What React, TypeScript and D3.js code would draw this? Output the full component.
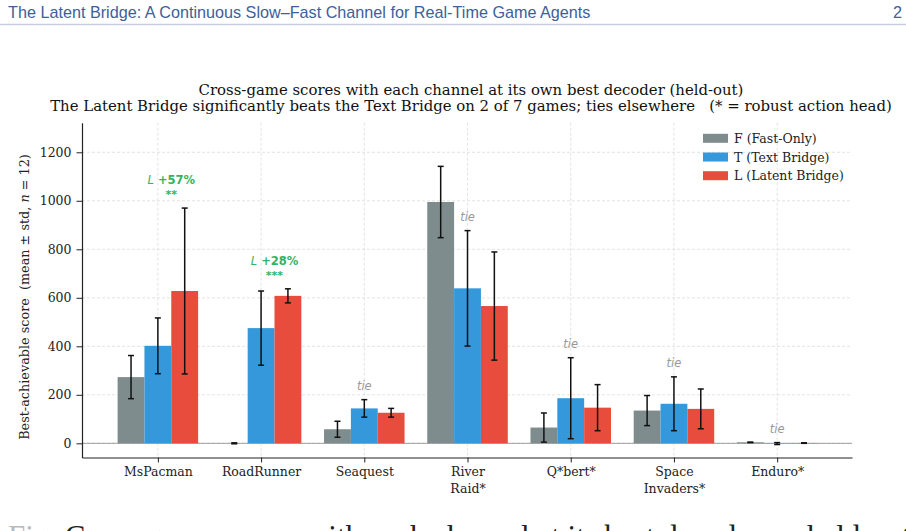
import React, { useRef, useEffect } from 'react';
import * as d3 from 'd3';

// per-game best-decoder scores (held-out), mean ± std over n = 12
const games = ['MsPacman', 'RoadRunner', 'Seaquest', 'River\nRaid*', 'Q*bert*', 'Space\nInvaders*', 'Enduro*'];
const fastMean = [273, 0, 58, 995, 65, 135, 4];
const fastStd = [89, 2, 33, 147, 60, 62, 1];
const textMean = [402, 475, 144, 639, 186, 163, -1];
const textStd = [115, 153, 36, 238, 167, 111, 4];
const latentMean = [628, 608, 126, 566, 147, 142, 1];
const latentStd = [342, 29, 18, 223, 95, 82, 1];

// verdict of L vs T per game
const gains = ['+57%', '+28%', '', '', '', '', ''];
const stars = ['**', '***', '', '', '', '', ''];

const yTicks = [0, 200, 400, 600, 800, 1000, 1200];
const seriesNames = ['F (Fast-Only)', 'T (Text Bridge)', 'L (Latent Bridge)'];
const colors = ['#7f8c8d', '#3498db', '#e74c3c'];

const App: React.FC = () => {
    const svgRef = useRef<SVGSVGElement | null>(null);
    const width = 906;
    const height = 531;
    const margin = { top: 122.7, right: 54, bottom: 73.5, left: 82 };
    const serif = "'DejaVu Serif', serif";
    const sans = "'DejaVu Sans', sans-serif";

    useEffect(() => {
        document.body.style.margin = '0';
        if (!svgRef.current) return;

        const svg = d3.select(svgRef.current);
        svg.selectAll('*').remove();
        svg.attr('viewBox', `0 0 ${width} ${height}`);

        svg.append('rect').attr('width', width).attr('height', height).attr('fill', 'white');

        // page header
        svg.append('text')
            .attr('x', 8).attr('y', 18)
            .attr('font-family', "'Liberation Sans', Arial, sans-serif")
            .attr('font-size', 16.2)
            .attr('fill', '#40609a')
            .text('The Latent Bridge: A Continuous Slow\u2013Fast Channel for Real-Time Game Agents');
        svg.append('text')
            .attr('x', 902).attr('y', 18)
            .attr('text-anchor', 'end')
            .attr('font-family', "'Liberation Sans', Arial, sans-serif")
            .attr('font-size', 16.2)
            .attr('fill', '#40609a')
            .text('2');
        svg.append('line')
            .attr('x1', 0).attr('x2', width)
            .attr('y1', 24.5).attr('y2', 24.5)
            .attr('stroke', '#c9cde2').attr('stroke-width', 1.5);

        const nGames = games.length;
        const x = d3.scaleLinear()
            .domain([-0.735, nGames - 0.275])
            .range([margin.left, width - margin.right]);
        const y = d3.scaleLinear()
            .domain([-58.5, 1322])
            .range([height - margin.bottom, margin.top]);
        const barW = 0.26;
        const pxW = x(barW) - x(0);

        // grid
        const grid = svg.append('g')
            .attr('stroke', '#dcdcdc')
            .attr('stroke-width', 0.8)
            .attr('stroke-dasharray', '3,2');
        grid.selectAll('line.h').data(yTicks).join('line')
            .attr('x1', margin.left).attr('x2', width - margin.right)
            .attr('y1', d => y(d)).attr('y2', d => y(d));
        grid.selectAll('line.v').data(d3.range(nGames)).join('line')
            .attr('x1', d => x(d)).attr('x2', d => x(d))
            .attr('y1', margin.top).attr('y2', height - margin.bottom);

        // zero line
        svg.append('line')
            .attr('x1', margin.left).attr('x2', width - margin.right)
            .attr('y1', y(0)).attr('y2', y(0))
            .attr('stroke', '#888').attr('stroke-width', 0.8);

        const series = [
            { mean: fastMean, std: fastStd, off: -barW, color: colors[0] },
            { mean: textMean, std: textStd, off: 0, color: colors[1] },
            { mean: latentMean, std: latentStd, off: barW, color: colors[2] },
        ];

        series.forEach(s => {
            const g = svg.append('g');
            g.selectAll('rect').data(s.mean).join('rect')
                .attr('x', (_, i) => x(i + s.off) - pxW / 2)
                .attr('width', pxW)
                .attr('y', d => Math.min(y(d), y(0)))
                .attr('height', d => Math.abs(y(0) - y(d)))
                .attr('fill', s.color);

            const eb = svg.append('g').attr('stroke', '#111').attr('stroke-width', 1.5);
            s.mean.forEach((m, i) => {
                const cx = x(i + s.off);
                const lo = y(m - s.std[i]);
                const hi = y(m + s.std[i]);
                eb.append('line').attr('x1', cx).attr('x2', cx).attr('y1', lo).attr('y2', hi);
                eb.append('line').attr('x1', cx - 3).attr('x2', cx + 3).attr('y1', lo).attr('y2', lo);
                eb.append('line').attr('x1', cx - 3).attr('x2', cx + 3).attr('y1', hi).attr('y2', hi);
            });
        });

        // verdict annotations
        games.forEach((_, i) => {
            const tTop = textMean[i] + textStd[i];
            const lTop = latentMean[i] + latentStd[i];
            const top = Math.max(tTop, lTop);
            if (gains[i]) {
                const cx = x(i + barW / 2);
                const t = svg.append('text')
                    .attr('x', cx).attr('y', y(top + 100))
                    .attr('text-anchor', 'middle')
                    .style('font-family', sans)
                    .style('font-size', '11.5px')
                    .style('font-weight', 'bold')
                    .attr('fill', '#2eb463');
                t.append('tspan').style('font-style', 'italic').style('font-weight', 'normal').text('L');
                t.append('tspan').text(' ' + gains[i]);
                svg.append('text')
                    .attr('x', cx).attr('y', y(top + 40))
                    .attr('text-anchor', 'middle')
                    .style('font-family', sans)
                    .style('font-size', '11px')
                    .style('font-weight', 'bold')
                    .attr('fill', '#2eb463')
                    .text(stars[i]);
            } else {
                svg.append('text')
                    .attr('x', x(i)).attr('y', y(top + 40))
                    .attr('text-anchor', 'middle')
                    .style('font-family', sans)
                    .style('font-size', '11.5px')
                    .style('font-style', 'italic')
                    .attr('fill', '#999')
                    .text('tie');
            }
        });

        // axes
        const yAxis = svg.append('g')
            .attr('transform', `translate(${margin.left},0)`)
            .call(d3.axisLeft(y).tickValues(yTicks).tickFormat(d3.format('d')).tickSize(5.5).tickSizeOuter(0).tickPadding(5));
        const xAxis = svg.append('g')
            .attr('transform', `translate(0,${height - margin.bottom})`)
            .call(d3.axisBottom(x).tickValues(d3.range(nGames)).tickSize(5).tickSizeOuter(0).tickPadding(5).tickFormat(() => ''));
        [yAxis, xAxis].forEach(ax => {
            ax.attr('font-family', serif).attr('font-size', 12.5);
            ax.select('.domain').attr('stroke', '#222').attr('stroke-width', 1.2);
            ax.selectAll('.tick line').attr('stroke', '#222').attr('stroke-width', 1);
            ax.selectAll('text')
                .style('font-family', serif)
                .style('font-size', '12.5px')
                .attr('fill', '#222');
        });
        xAxis.selectAll<SVGTextElement, number>('.tick text').each(function (d) {
            const lines = games[d].split('\n');
            const sel = d3.select(this);
            lines.forEach((ln, k) => {
                const ts = sel.append('tspan').attr('x', 0).text(ln);
                if (k > 0) ts.attr('dy', '1.32em');
            });
        });

        // y label
        const yl = svg.append('text')
            .attr('transform', `translate(29,297) rotate(-90)`)
            .attr('text-anchor', 'middle')
            .style('font-family', serif)
            .style('font-size', '12.8px')
            .style('white-space', 'pre')
            .attr('fill', '#222');
        yl.append('tspan').text('Best-achievable score  (mean \u00b1 std, ');
        yl.append('tspan').style('font-style', 'italic').text('n');
        yl.append('tspan').text(' = 12)');

        // title
        const tx = (margin.left + width - margin.right) / 2 + 4;
        svg.append('text')
            .attr('x', tx).attr('y', 95)
            .attr('text-anchor', 'middle')
            .style('font-family', serif).style('font-size', '14.9px')
            .attr('fill', '#111')
            .text('Cross-game scores with each channel at its own best decoder (held-out)');
        svg.append('text')
            .attr('x', tx).attr('y', 111)
            .attr('text-anchor', 'middle')
            .style('font-family', serif).style('font-size', '14.9px')
            .style('white-space', 'pre')
            .attr('fill', '#111')
            .text('The Latent Bridge significantly beats the Text Bridge on 2 of 7 games; ties elsewhere   (* = robust action head)');

        // legend
        const lg = svg.append('g').attr('transform', 'translate(703,138.3)');
        seriesNames.forEach((name, i) => {
            const row = lg.append('g').attr('transform', `translate(0,${i * 18.7})`);
            row.append('rect').attr('x', 0).attr('y', -4.5).attr('width', 25).attr('height', 9).attr('fill', colors[i]);
            row.append('text').attr('x', 31).attr('y', 4.5)
                .style('font-family', serif).style('font-size', '12.5px')
                .attr('fill', '#222')
                .text(name);
        });

        // caption, cut by the page edge
        const cap = svg.append('text')
            .attr('x', 8).attr('y', 547)
            .style('font-family', "'Liberation Serif', serif")
            .style('font-size', '31px')
            .style('white-space', 'pre')
            .attr('fill', '#222');
        cap.append('tspan').attr('fill', '#bbb').text('Fig.');
        cap.append('tspan').text(' Cross-game scores with each channel at its best decoder on held-out episodes');
    }, []);

    return <svg ref={svgRef} width={width} height={height} style={{ position: 'absolute', left: 0, top: 0, display: 'block' }}></svg>;
};

export default App;
